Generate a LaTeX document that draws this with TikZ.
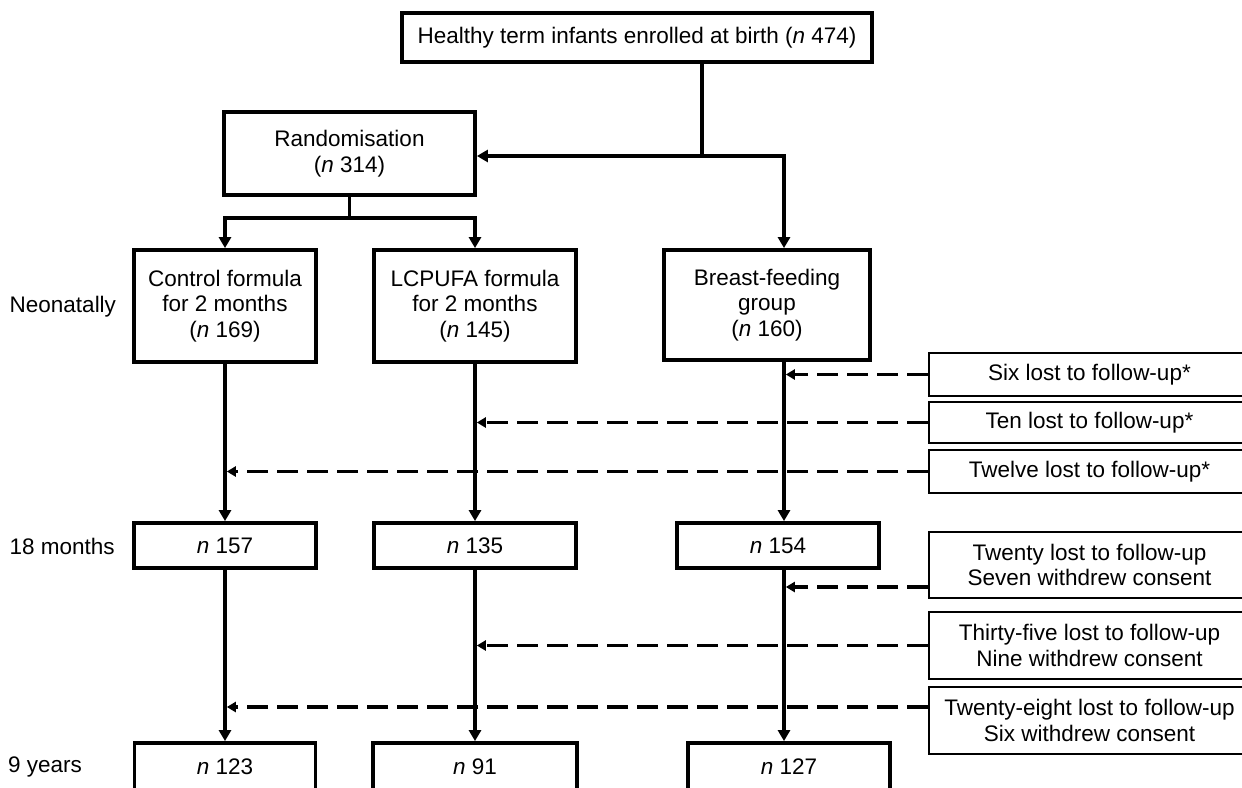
\documentclass[tikz,border=0pt]{standalone}
\usepackage{fontspec}
\setmainfont{Liberation Sans}
\usetikzlibrary{arrows.meta,calc}
\begin{document}
\begin{tikzpicture}[x=1pt,y=-1pt,
  txt/.style={font=\fontsize{22.5}{25.5}\selectfont},
  mainbox/.style={txt,draw,line width=3.8pt,align=center,inner sep=0pt},
  sidebox/.style={txt,draw,line width=1.6pt,align=center,inner sep=0pt,minimum width=321pt},
  lbl/.style={txt,anchor=west,inner sep=0pt},
  ln/.style={line width=3.6pt},
  arr/.style={line width=3.6pt,-{Triangle[length=11pt,width=12pt]}},
  dasharr/.style={line width=3.4pt,dash pattern=on 21pt off 9pt,-{Triangle[length=9pt,width=10pt]}}]
\useasboundingbox (0,0) rectangle (1242,787);
\clip (0,0) rectangle (1242,787);
\fill[white] (0,0) rectangle (1242,787);
% column x positions
\coordinate (xc) at (225,0);
\coordinate (xl) at (475,0);
\coordinate (xb) at (784,0);
\coordinate (xt) at (702,0);
% main boxes
\node[mainbox,minimum width=470pt,minimum height=49pt] (top) at (637,37.5) {Healthy term infants enrolled at birth (\textit{n} 474)};
\node[mainbox,minimum width=251pt,minimum height=83pt] (rand) at (349.5,153.5) {Randomisation\\(\textit{n} 314)};
\node[mainbox,minimum width=182pt,minimum height=112pt] (ctrl) at (225,306) {Control formula\\for 2 months\\(\textit{n} 169)};
\node[mainbox,minimum width=202pt,minimum height=112pt] (lcp) at (475,306) {LCPUFA formula\\for 2 months\\(\textit{n} 145)};
\node[mainbox,minimum width=206pt,minimum height=110pt] (bf) at (767,305) {Breast-feeding\\group\\(\textit{n} 160)};
\node[mainbox,minimum width=182pt,minimum height=45pt] (c18) at (225,545.5) {\textit{n} 157};
\node[mainbox,minimum width=202pt,minimum height=45pt] (l18) at (475,545.5) {\textit{n} 135};
\node[mainbox,minimum width=202pt,minimum height=45pt] (b18) at (778,545.5) {\textit{n} 154};
\node[mainbox,minimum width=181pt,minimum height=48pt] (c9) at (225,767) {\textit{n} 123};
\node[mainbox,minimum width=204pt,minimum height=48pt] (l9) at (475,767) {\textit{n} 91};
\node[mainbox,minimum width=202pt,minimum height=48pt] (b9) at (789,767) {\textit{n} 127};
% side boxes
\node[sidebox,minimum height=43pt] (six) at (1089.5,374.5) {Six lost to follow-up*};
\node[sidebox,minimum height=41pt] (ten) at (1089.5,422.5) {Ten lost to follow-up*};
\node[sidebox,minimum height=43pt] (twelve) at (1089.5,471.5) {Twelve lost to follow-up*};
\node[sidebox,minimum height=66pt] (twenty) at (1089.5,565) {Twenty lost to follow-up\\Seven withdrew consent};
\node[sidebox,minimum height=67pt] (thirty) at (1089.5,645.5) {Thirty-five lost to follow-up\\Nine withdrew consent};
\node[sidebox,minimum height=67pt] (teight) at (1089.5,720.5) {Twenty-eight lost to follow-up\\Six withdrew consent};
% row labels
\node[lbl] (lneo) at (9.5,307) {Neonatally};
\node[lbl] (lmon) at (9.5,546) {18 months};
\node[lbl] (lyrs) at (8,767) {9 years};
% top connectors
\coordinate (jt) at (702,156);
\coordinate (jr) at (349.5,218);
\draw[ln] (top.south -| xt) -- (jt);
\draw[arr] (jt) -- (jt -| rand.east);
\draw[arr] (jt) -| (bf.north -| xb);
\draw[ln] (rand.south) -- (jr);
\draw[arr] (jr) -| (ctrl.north);
\draw[arr] (jr) -| (lcp.north);
% column connectors
\draw[arr] (ctrl.south) -- (c18.north);
\draw[arr] (c18.south) -- (c9.north);
\draw[arr] (lcp.south) -- (l18.north);
\draw[arr] (l18.south) -- (l9.north);
\draw[arr] (bf.south -| xb) -- (b18.north -| xb);
\draw[arr] (b18.south -| xb) -- (b9.north -| xb);
% losses
\draw[dasharr] (six.west) -- ($(six.west -| xb)+(1.8,0)$);
\draw[dasharr] (ten.west) -- ($(ten.west -| xl)+(1.8,0)$);
\draw[dasharr] (twelve.west) -- ($(twelve.west -| xc)+(1.8,0)$);
\draw[dasharr] ($(twenty.west)+(0,22)$) -- ($(twenty.west -| xb)+(1.8,22)$);
\draw[dasharr] (thirty.west) -- ($(thirty.west -| xl)+(1.8,0)$);
\draw[dasharr] ($(teight.west)+(0,-13.5)$) -- ($(teight.west -| xc)+(1.8,-13.5)$);
\end{tikzpicture}
\end{document}
